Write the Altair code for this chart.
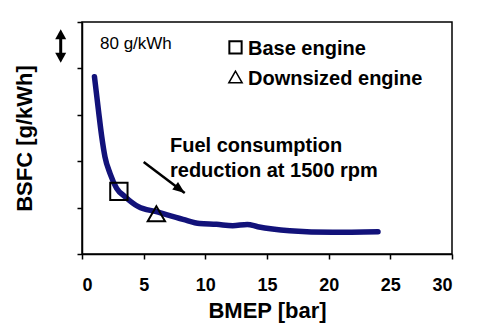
import altair as alt
import pandas as pd

# ---- data ----
bmep = [1.01, 1.33, 1.60, 1.86, 2.27, 2.81, 3.49, 4.57, 6.03, 8.19, 9.54, 10.90, 12.22, 13.40, 14.25, 16.84, 20.33, 24.0]
bsfc = [505.7, 448.3, 402.3, 367.8, 339.1, 313.3, 298.8, 281.6, 272.9, 259.8, 252.6, 251.2, 248.8, 251.0, 247.1, 240.2, 237.4, 238.4]

marker_names = ["Base engine", "Downsized engine"]
marker_bmep = [2.99, 6.03]
marker_bsfc = [308.1, 269.5]
marker_shapes = ["square", "triangle-up"]

x_ticks = [0, 5, 10, 15, 20, 25, 30]
y_ticks = [200, 280, 360, 440, 520, 600]

arrow_bmep = [5.0, 8.33]
arrow_bsfc = [358.6, 305.2]

NAVY = "#12127a"
FONT = "Liberation Sans"

curve = pd.DataFrame({"BMEP": bmep, "BSFC": bsfc})
markers = pd.DataFrame({"name": marker_names, "BMEP": marker_bmep, "BSFC": marker_bsfc})
arrow = pd.DataFrame({"BMEP": [arrow_bmep[0]], "BSFC": [arrow_bsfc[0]],
                      "BMEP2": [arrow_bmep[1]], "BSFC2": [arrow_bsfc[1]]})
arrow_end = pd.DataFrame({"BMEP": [arrow_bmep[1]], "BSFC": [arrow_bsfc[1]]})

xs = alt.Scale(domain=[0, 30], nice=False)
ys = alt.Scale(domain=[200, 600], nice=False)

x_enc = alt.X("BMEP:Q", scale=xs, axis=alt.Axis(
    values=x_ticks, title="BMEP [bar]", labelFontSize=18, labelFontWeight="bold",
    labelPadding=17, titleFontSize=22, titleFontWeight="bold", titlePadding=6,
    format="d"))
y_enc = alt.Y("BSFC:Q", scale=ys, axis=alt.Axis(
    values=y_ticks, labels=False, title="BSFC [g/kWh]", titleFontSize=22,
    titleFontWeight="bold", titlePadding=40))

line = alt.Chart(curve).mark_line(
    color=NAVY, strokeWidth=5.5, interpolate="monotone", strokeCap="round", strokeJoin="round"
).encode(x=x_enc, y=y_enc)

pts = alt.Chart(markers).mark_point(
    filled=False, color="black", strokeWidth=2, size=300, opacity=1
).encode(
    x="BMEP:Q", y="BSFC:Q",
    shape=alt.Shape("name:N", scale=alt.Scale(domain=marker_names, range=marker_shapes), legend=None),
)

head_path = "M0,0L-0.8,2L0.8,2Z"
arr_line = alt.Chart(arrow).mark_rule(color="black", strokeWidth=2.5).encode(
    x="BMEP:Q", y="BSFC:Q", x2="BMEP2:Q", y2="BSFC2:Q")
arr_head = alt.Chart(arrow_end).mark_point(
    shape=head_path, filled=True, color="black", size=144, angle=127, opacity=1
).encode(x="BMEP:Q", y="BSFC:Q")

note = alt.Chart(arrow_end).mark_text(
    text=["Fuel consumption", "reduction at 1500 rpm"], font=FONT, fontSize=20,
    fontWeight="bold", align="left", baseline="alphabetic", lineHeight=25, color="black"
).encode(x=alt.value(88), y=alt.value(129.7))

# custom legend (pixel positions inside plot area)
leg_sq = alt.Chart(arrow_end).mark_point(
    shape="square", filled=False, color="black", strokeWidth=2, size=151, opacity=1
).encode(x=alt.value(153.5), y=alt.value(25.3))
leg_tri = alt.Chart(arrow_end).mark_point(
    shape="triangle-up", filled=False, color="black", strokeWidth=1.5, size=177, opacity=1
).encode(x=alt.value(153.5), y=alt.value(55.0))
leg_t1 = alt.Chart(arrow_end).mark_text(
    text=marker_names[0], font=FONT, fontSize=20, fontWeight="bold", align="left",
    baseline="alphabetic", color="black"
).encode(x=alt.value(166), y=alt.value(33))
leg_t2 = alt.Chart(arrow_end).mark_text(
    text=marker_names[1], font=FONT, fontSize=20, fontWeight="bold", align="left",
    baseline="alphabetic", color="black"
).encode(x=alt.value(166), y=alt.value(63))

# scale note, double arrow outside plot
scale_txt = alt.Chart(arrow_end).mark_text(
    text="80 g/kWh", font=FONT, fontSize=17, align="left", baseline="alphabetic", color="black"
).encode(x=alt.value(18), y=alt.value(26.5))
dbl_line = alt.Chart(arrow_end).mark_rule(color="black", strokeWidth=3).encode(
    x=alt.value(-21.3), y=alt.value(12), y2=alt.value(36))
dbl_path = "M0,0L-1,1.8L1,1.8Z"
dbl_top = alt.Chart(arrow_end).mark_point(
    shape=dbl_path, filled=True, color="black", size=121, angle=0, opacity=1
).encode(x=alt.value(-21.3), y=alt.value(7.3))
dbl_bot = alt.Chart(arrow_end).mark_point(
    shape=dbl_path, filled=True, color="black", size=121, angle=180, opacity=1
).encode(x=alt.value(-21.3), y=alt.value(40.7))

chart = alt.layer(
    line, pts, arr_line, arr_head, note, leg_sq, leg_tri, leg_t1, leg_t2,
    scale_txt, dbl_line, dbl_top, dbl_bot
).properties(
    width=370, height=232,
    autosize=alt.AutoSizeParams(type="none"),
    padding={"left": 82, "top": 22, "right": 40, "bottom": 74},
).configure(font=FONT, background="white").configure_view(
    stroke="black", strokeWidth=1.5
).configure_axis(
    grid=False, domainColor="black", domainWidth=1.5, tickColor="black", tickWidth=1.5,
    tickSize=5, labelColor="black", titleColor="black", labelFont=FONT, titleFont=FONT
)

chart.save("out.html", embed_options={"renderer": "svg", "actions": False})
